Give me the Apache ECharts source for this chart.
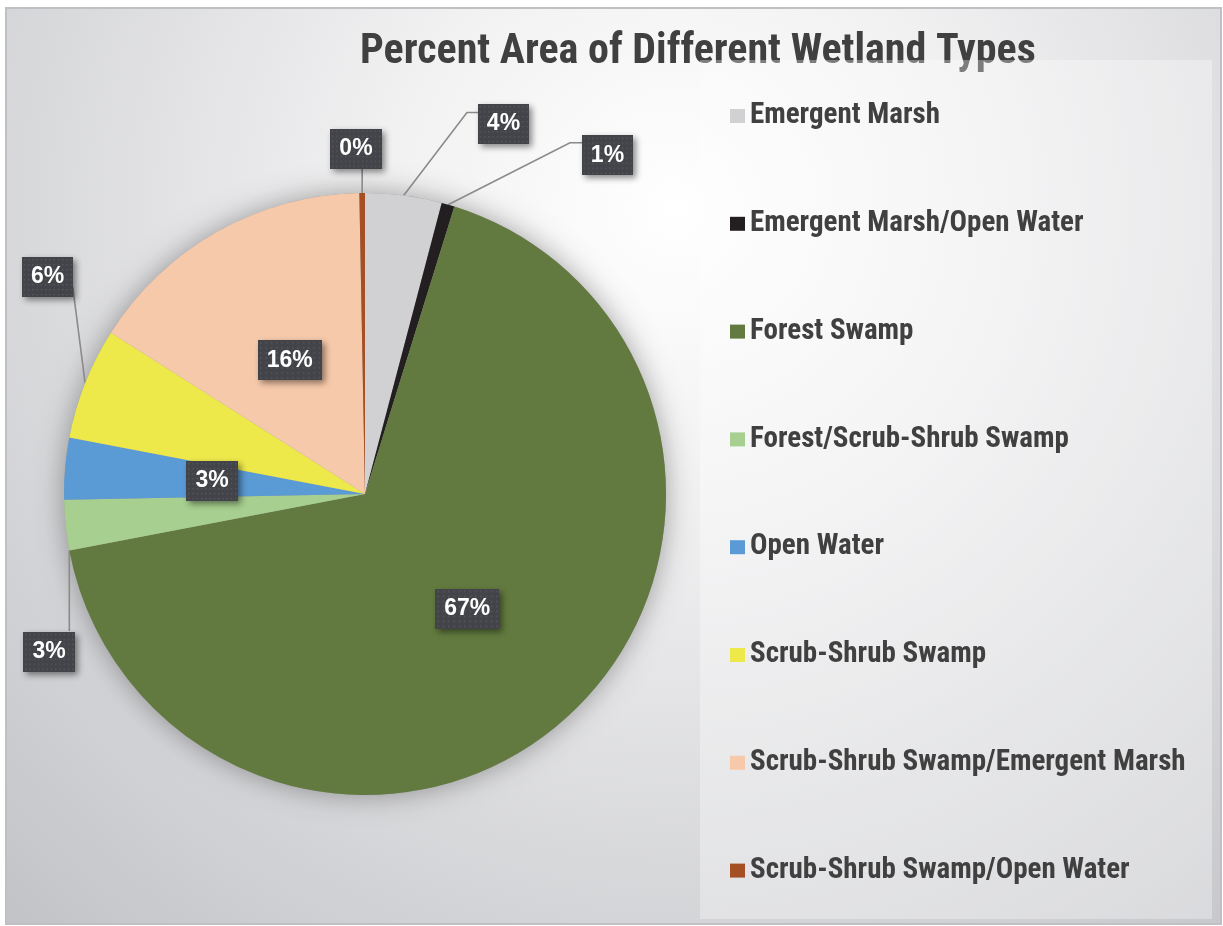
<!DOCTYPE html>
<html>
<head>
<meta charset="utf-8">
<title>Percent Area of Different Wetland Types</title>
<script src="https://cdn.jsdelivr.net/npm/echarts@6/dist/echarts.min.js"></script>
<style>
  html, body { margin: 0; padding: 0; background: #ffffff; }
  #chart { width: 1223px; height: 926px; }
</style>
</head>
<body>
<div id="chart"></div>
<script>
// Wetland categories and their share of total area (percent)
const categories = [
  'Emergent Marsh',
  'Emergent Marsh/Open Water',
  'Forest Swamp',
  'Forest/Scrub-Shrub Swamp',
  'Open Water',
  'Scrub-Shrub Swamp',
  'Scrub-Shrub Swamp/Emergent Marsh',
  'Scrub-Shrub Swamp/Open Water'
];
const percentArea = [4.1, 0.7, 67.2, 2.7, 3.3, 6.0, 15.7, 0.3];
const sliceColors = ['#d1d1d3', '#231f20', '#627a3f', '#a7cf8f', '#5b9bd5', '#eee94b', '#f6c9ab', '#a54f25'];

// Slices whose value label sits inside the wedge
const insideLabels = ['Forest Swamp', 'Open Water', 'Scrub-Shrub Swamp/Emergent Marsh'];

// Pie geometry
const CX = 365, CY = 494, R = 301;
const FONT_NARROW = '"Liberation Sans Narrow", "Roboto Condensed", "Arial Narrow", sans-serif';
const FONT_LABEL = '"Liberation Sans", Arial, sans-serif';

// Callout placement: where on the arc the leader starts (fraction of the wedge),
// label centre and leader points as offsets from that start point
const callouts = {
  'Emergent Marsh':               { t: 0.5, label: [99.8, -71.5],   line: [[63.3, -83], [75.3, -83]] },
  'Emergent Marsh/Open Water':    { t: 0.5, label: [159.4, -49.2],  line: [[121.9, -62], [134.9, -62]] },
  'Forest/Scrub-Shrub Swamp':     { t: 0.0, label: [-20.3, 101.1],  line: [[0, 80.6]] },
  'Scrub-Shrub Swamp':            { t: 0.5, label: [-37.6, -106.2], line: [[-12.4, -96.2]] },
  'Scrub-Shrub Swamp/Open Water': { t: 0.5, label: [-6.2, -44.5],   line: [[0, -24]] }
};

const total = percentArea.reduce((a, b) => a + b, 0);
function arcPoint(i, t) {
  let before = 0;
  for (let k = 0; k < i; k++) before += percentArea[k];
  const ang = (before + percentArea[i] * t) / total * Math.PI * 2;
  return [CX + R * Math.sin(ang), CY - R * Math.cos(ang)];
}

// Dark dotted tile used behind the value labels
function dotTile() {
  const c = document.createElement('canvas');
  c.width = 60; c.height = 40;
  const g = c.getContext('2d');
  g.fillStyle = '#434449';
  g.fillRect(0, 0, 60, 40);
  g.fillStyle = '#58595e';
  for (let y = 2; y < 40; y += 5) {
    for (let x = 2; x < 60; x += 5) g.fillRect(x, y, 1.5, 1.5);
  }
  return c;
}
const tile = dotTile();

const pieData = categories.map((name, i) => {
  const inside = insideLabels.indexOf(name) >= 0;
  return {
    name: name,
    value: percentArea[i],
    itemStyle: { color: sliceColors[i] },
    label: { position: inside ? 'inside' : 'outside' },
    labelLine: { show: !inside }
  };
});

const chart = echarts.init(document.getElementById('chart'), null, { renderer: 'canvas' });

chart.setOption({
  animation: false,
  graphic: [
    {
      type: 'rect', z: -10, silent: true,
      shape: { x: 6, y: 8, width: 1215, height: 916 },
      style: {
        fill: {
          type: 'radial', x: 0.55, y: 0.22, r: 1.05,
          colorStops: [
            { offset: 0, color: '#ffffff' },
            { offset: 0.3, color: '#f1f1f2' },
            { offset: 1, color: '#c3c4c8' }
          ]
        },
        stroke: '#bfc0c4', lineWidth: 2
      }
    },
    {
      type: 'rect', z: 10, silent: true,
      shape: { x: 700, y: 60, width: 512, height: 859 },
      style: { fill: 'rgba(255,255,255,0.32)' }
    }
  ],
  title: {
    text: 'Percent Area of Different Wetland Types',
    left: 360, top: 31, padding: 0,
    textStyle: { fontFamily: FONT_NARROW, fontWeight: 'bold', fontSize: 42, color: '#404040' }
  },
  legend: {
    orient: 'vertical',
    left: 730, top: 101, padding: 0, z: 20,
    data: categories,
    selectedMode: false,
    icon: 'rect',
    itemWidth: 15, itemHeight: 14,
    itemGap: 77.8,
    textStyle: { fontFamily: FONT_NARROW, fontWeight: 'bold', fontSize: 29, lineHeight: 30, color: '#404040' }
  },
  series: [
    {
      // soft shadow under the whole pie
      type: 'pie', z: 1, silent: true,
      center: [CX, CY], radius: R,
      label: { show: false }, labelLine: { show: false },
      itemStyle: { color: '#9a9a9a', shadowBlur: 28, shadowColor: 'rgba(0,0,0,0.35)' },
      data: [{ value: 1, name: '' }]
    },
    {
      type: 'pie', z: 2,
      center: [CX, CY], radius: R,
      startAngle: 90, clockwise: true,
      avoidLabelOverlap: false,
      silent: true,
      itemStyle: { borderWidth: 0 },
      label: {
        show: true,
        formatter: p => Math.round(p.value) + '%',
        color: '#ffffff', fontFamily: FONT_LABEL, fontWeight: 'bold', fontSize: 23,
        backgroundColor: { image: tile },
        padding: [9, 9, 8, 9],
        shadowBlur: 6, shadowColor: 'rgba(0,0,0,0.45)', shadowOffsetX: 3, shadowOffsetY: 3
      },
      labelLine: { show: true, lineStyle: { color: '#8a8a8a', width: 1.6 } },
      labelLayout: function (p) {
        const name = categories[p.dataIndex];
        const c = callouts[name];
        if (!c) return {};
        const a = arcPoint(p.dataIndex, c.t);
        const pts = [a].concat(c.line.map(d => [a[0] + d[0], a[1] + d[1]]));
        return {
          x: a[0] + c.label[0], y: a[1] + c.label[1],
          align: 'center', verticalAlign: 'middle',
          labelLinePoints: pts
        };
      },
      data: pieData
    }
  ]
});
</script>
</body>
</html>
